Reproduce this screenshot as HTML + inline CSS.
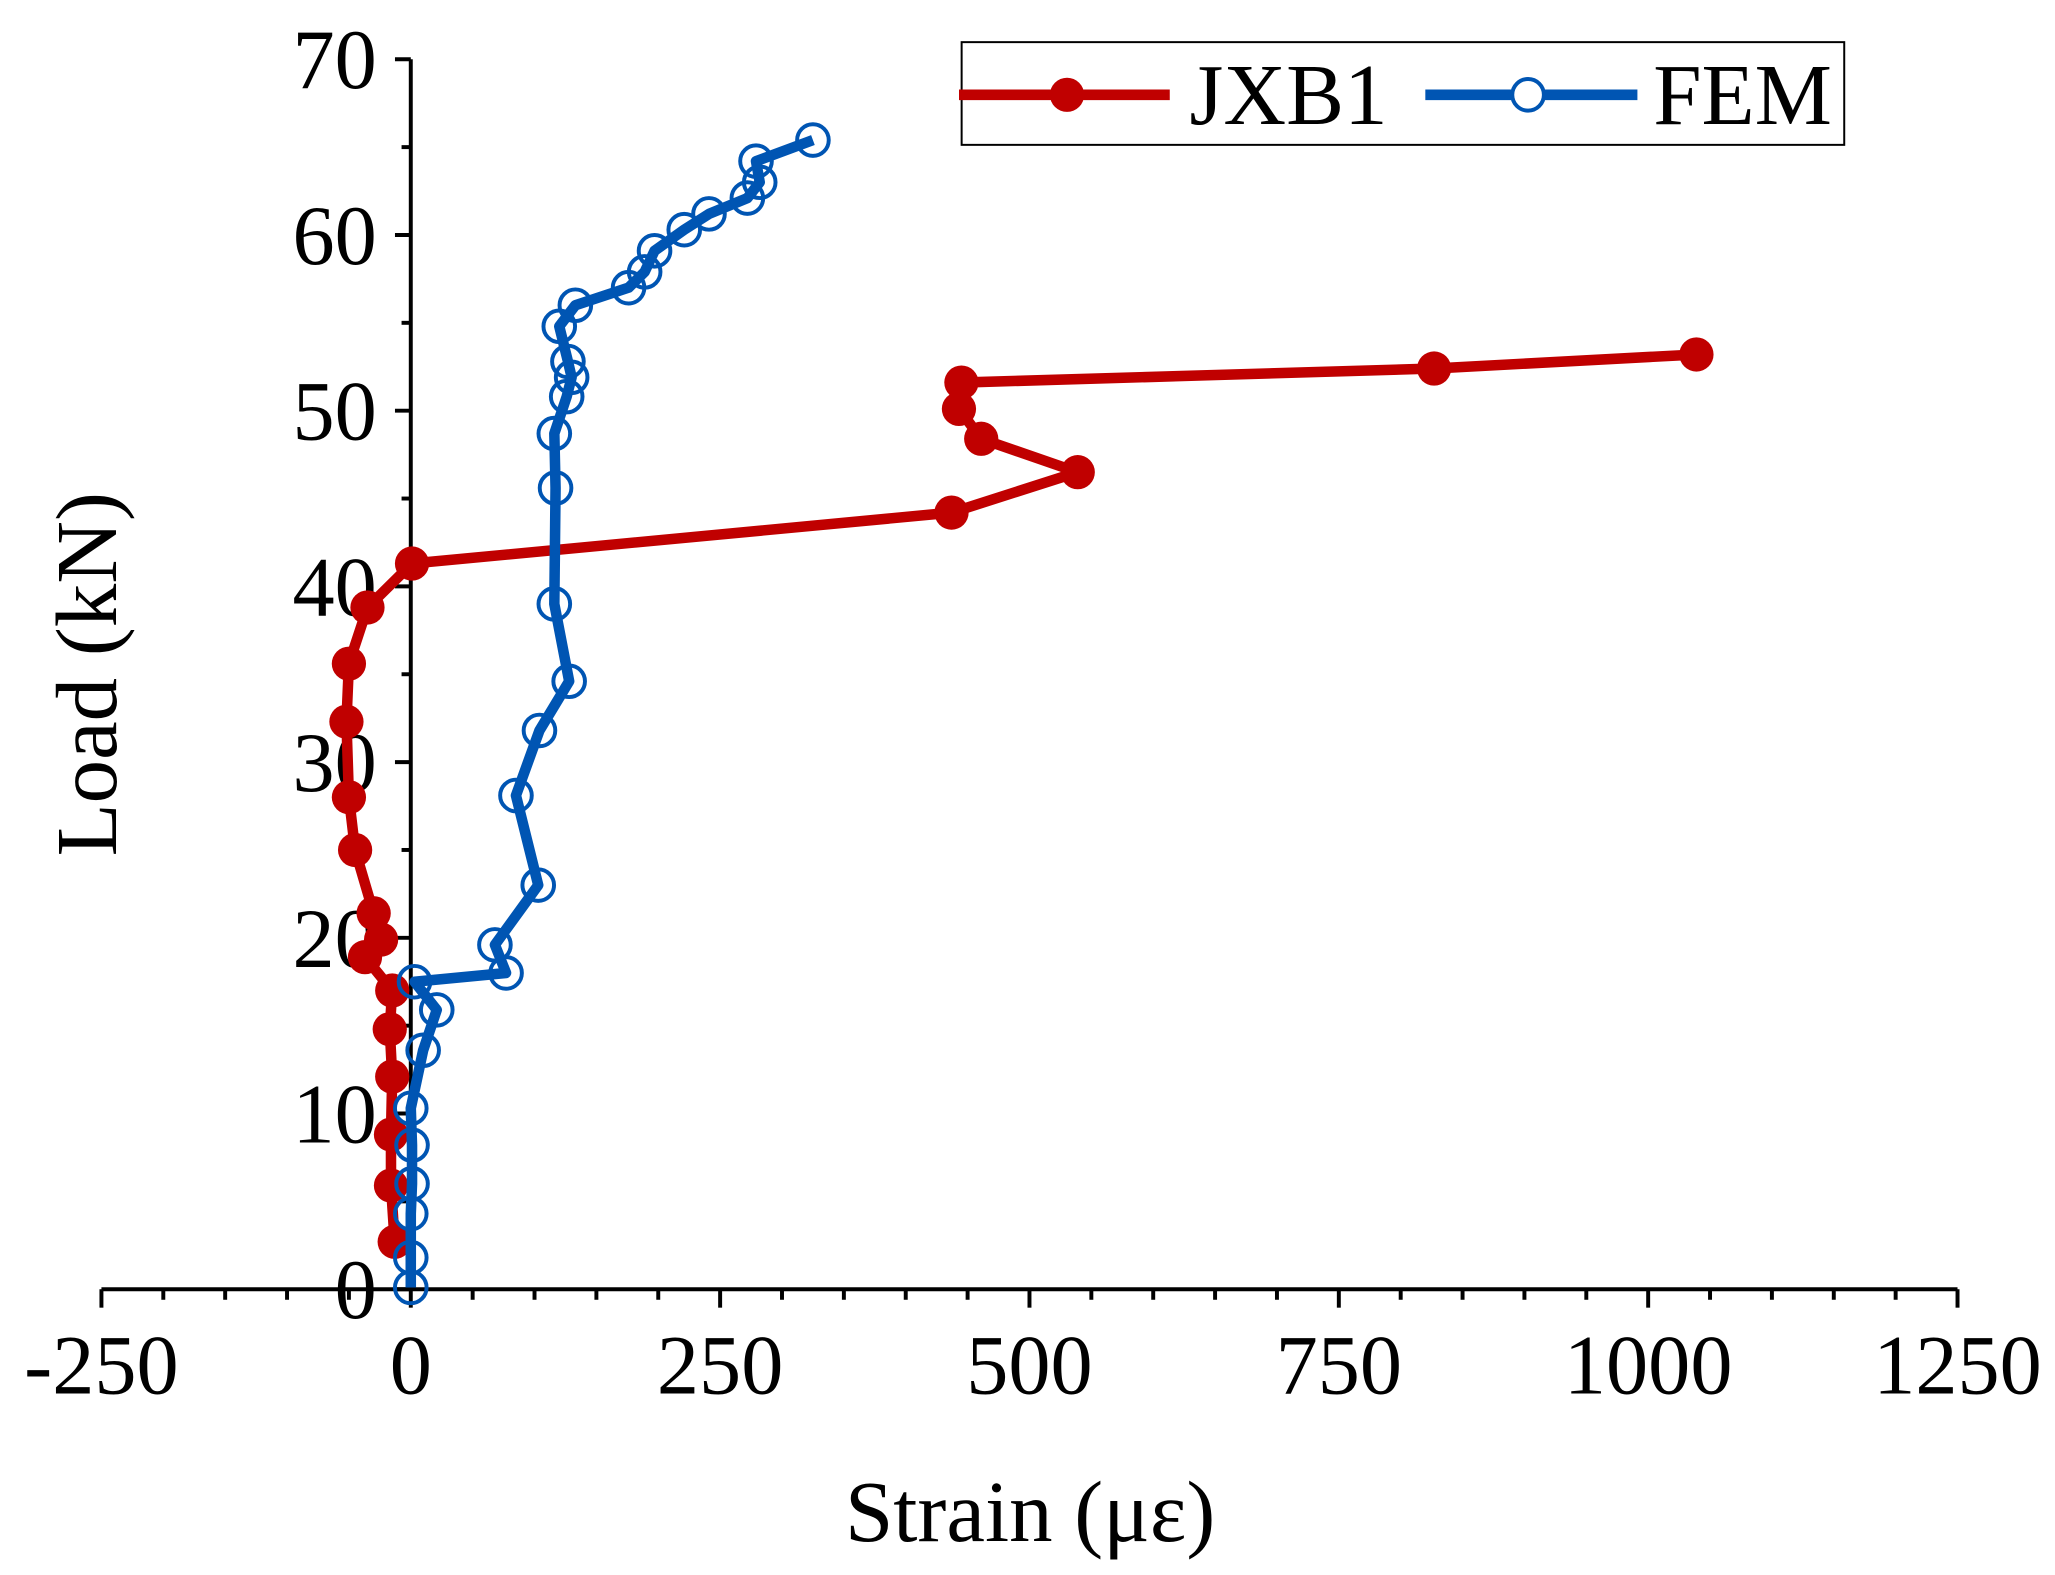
<!DOCTYPE html>
<html><head><meta charset="utf-8"><style>
html,body{margin:0;padding:0;background:#fff;}
svg{display:block;font-family:"Liberation Serif","Times New Roman",serif;}
</style></head><body>
<svg id="chart" width="2055" height="1575" viewBox="0 0 1560 1196" preserveAspectRatio="none" xmlns="http://www.w3.org/2000/svg">
<g id="axes"></g>
<g id="series"></g>
<g>
 <rect x="730" y="32" width="670" height="78" fill="#fff" stroke="#000" stroke-width="1.5"/>
 <g>
  <line x1="728" y1="72" x2="888" y2="72" stroke="#c00000" stroke-width="8"/>
  <circle cx="810" cy="72" r="13" fill="#c00000"/>
  <text x="903" y="94" font-size="66">JXB1</text>
 </g>
 <g>
  <line x1="1082" y1="72" x2="1243" y2="72" stroke="#0055b3" stroke-width="8"/>
  <circle cx="1160" cy="72" r="12" fill="#fff" stroke="#0055b3" stroke-width="3"/>
  <text x="1255" y="94" font-size="66">FEM</text>
 </g>
</g>
<text x="782" y="1170" font-size="66" text-anchor="middle">Strain (με)</text>
<text transform="translate(88,512) rotate(-90)" font-size="66" text-anchor="middle">Load (kN)</text>
</svg>
<script>
const xTicks=[-250,0,250,500,750,1000,1250];
const yTicks=[0,10,20,30,40,50,60,70];
const jxbStrain=[-13,-16,-16,-15,-17,-15,-37,-24,-30,-45,-50,-52,-50,-35,1,437,539,461,443,445,827,1039];
const jxbLoad=[2.7,5.9,8.8,12.1,14.8,17.0,18.9,19.9,21.4,25.0,28.0,32.3,35.6,38.8,41.3,44.2,46.5,48.4,50.1,51.6,52.4,53.2];
const femStrain=[0,0,0,1,1,0,10,21,3,77,68,103,85,104,128,116,117,116,126,130,127,120,133,176,189,197,221,241,272,282,279,325];
const femLoad=[0.1,1.8,4.3,6.0,8.2,10.3,13.6,15.9,17.5,18.0,19.6,23.0,28.1,31.8,34.6,39.0,45.6,48.7,50.8,51.9,52.8,54.8,56.0,57.0,57.9,59.1,60.3,61.2,62.1,63.0,64.2,65.4];
const X0=77,X1=1486,Y0=979,Y1=45;
const sx=v=>X0+(v+250)/1500*(X1-X0);
const sy=v=>Y0-v/70*(Y0-Y1);
const NS="http://www.w3.org/2000/svg";
function mk(t,a,p){const e=document.createElementNS(NS,t);for(const k in a)e.setAttribute(k,a[k]);p.appendChild(e);return e;}
const ax=document.getElementById('axes');
let l=mk('line',{x1:X0,y1:Y0,x2:X1,y2:Y0,stroke:'#000','stroke-width':3},ax);


l=mk('line',{x1:sx(0),y1:Y0,x2:sx(0),y2:Y1,stroke:'#000','stroke-width':3},ax);


for(let v=-250;v<=1250;v+=50){const maj=v%250===0;
 const t=mk('line',{x1:sx(v),y1:Y0,x2:sx(v),y2:Y0+(maj?14:8),stroke:'#000','stroke-width':3},ax);
 
 }
xTicks.forEach(v=>{const t=mk('text',{x:sx(v),y:1058,'font-size':64,'text-anchor':'middle'},ax);t.textContent=v;
 
 });
for(let v=0;v<=70;v+=5){const maj=v%10===0;
 const t=mk('line',{x1:sx(0),y1:sy(v),x2:sx(0)-(maj?12:7),y2:sy(v),stroke:'#000','stroke-width':3},ax);
 
 }
yTicks.forEach(v=>{const t=mk('text',{x:286,y:sy(v)+22,'font-size':64,'text-anchor':'end'},ax);t.textContent=v;
 
 });
const sg=document.getElementById('series');
function draw(xs,ys,col,filled,name){
 const pts=xs.map((v,i)=>sx(v)+','+sy(ys[i])).join(' ');
 const pl=mk('polyline',{points:pts,fill:'none',stroke:col,'stroke-width':8,'stroke-linejoin':'round'},sg);
 
 
 xs.forEach((v,i)=>{const c=mk('circle',filled?{cx:sx(v),cy:sy(ys[i]),r:13,fill:col}:{cx:sx(v),cy:sy(ys[i]),r:12,fill:'none',stroke:col,'stroke-width':3},sg);
  
  });
}
draw(jxbStrain,jxbLoad,'#c00000',true,'jxb1');
draw(femStrain,femLoad,'#0055b3',false,'fem');
</script>
</body></html>
